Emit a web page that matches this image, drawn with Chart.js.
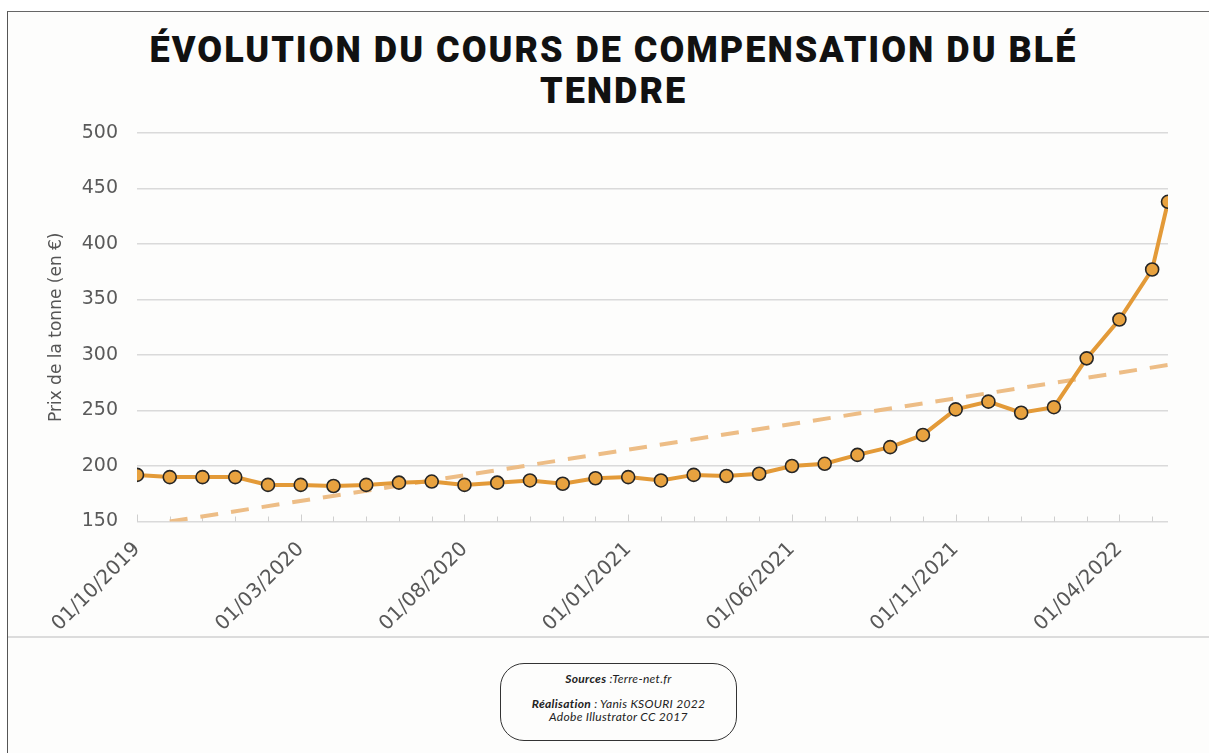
<!DOCTYPE html>
<html lang="fr">
<head>
<meta charset="utf-8">
<title>Évolution du cours de compensation du blé tendre</title>
<script src="https://cdn.jsdelivr.net/npm/chart.js@4.4.1/dist/chart.umd.min.js"></script>
<style>
  html, body { margin: 0; padding: 0; background: #fff; }
  body { width: 1209px; height: 753px; position: relative; overflow: hidden; }
  .frame {
    position: absolute; left: 7px; top: 11px; right: 0; bottom: 0;
    background: #fdfdfc;
    border-left: 1.5px solid #555;
    border-top: 1.5px solid #666;
  }
  .title {
    position: absolute; left: 0; top: 30px; width: 1227px; text-align: center;
    font-family: Roboto, "DejaVu Sans", sans-serif; font-weight: 900; font-size: 36px;
    letter-spacing: 2px; line-height: 41px; color: #111;
  }
  .chart-wrap { position: absolute; left: 8px; top: 12px; width: 1201px; height: 646px; }
  .sep { position: absolute; left: 8px; right: 0; top: 636px; border-top: 2px solid #dcdcdc; }
  .below { position: absolute; left: 8px; right: 0; top: 638px; bottom: 0; background: #fdfdfc; }
  .credits {
    position: absolute; left: 500px; top: 663px; width: 237px; height: 78px;
    box-sizing: border-box; border: 1.3px solid #333; border-radius: 24px;
    font-family: Lato, "DejaVu Sans", sans-serif; font-size: 12px; font-style: italic;
    letter-spacing: 0.3px; color: #222; text-align: center; line-height: 13px; padding-top: 8px;
  }
  .credits b { font-weight: 700; }
  .credits p { margin: 0; }
  .credits .gap { height: 12px; }
</style>
</head>
<body>
<div class="frame"></div>
<div class="title">ÉVOLUTION DU COURS DE COMPENSATION DU BLÉ<br>TENDRE</div>
<div class="chart-wrap"><canvas id="wheatChart"></canvas></div>
<div class="below"></div>
<div class="sep"></div>
<div class="credits">
  <p><b>Sources</b> :Terre-net.fr</p>
  <div class="gap"></div>
  <p><b>Réalisation</b> : Yanis KSOURI 2022</p>
  <p>Adobe Illustrator CC 2017</p>
</div>

<script>
// Monthly compensation price (€/t)
const dates = [
  '01/10/2019', '01/11/2019', '01/12/2019', '01/01/2020', '01/02/2020', '01/03/2020',
  '01/04/2020', '01/05/2020', '01/06/2020', '01/07/2020', '01/08/2020', '01/09/2020',
  '01/10/2020', '01/11/2020', '01/12/2020', '01/01/2021', '01/02/2021', '01/03/2021',
  '01/04/2021', '01/05/2021', '01/06/2021', '01/07/2021', '01/08/2021', '01/09/2021',
  '01/10/2021', '01/11/2021', '01/12/2021', '01/01/2022', '01/02/2022', '01/03/2022',
  '01/04/2022', '01/05/2022', '16/05/2022'
];
const prices = [
  192, 190, 190, 190, 183, 183,
  182, 183, 185, 186, 183, 185,
  187, 184, 189, 190, 187, 192,
  191, 193, 200, 202, 210, 217,
  228, 251, 258, 248, 253, 297,
  332, 377, 438
];

// dashed linear trend, ends
const trendDates = ['01/11/2019', '16/05/2022'];
const trendPrices = [150, 291];

const tickDates = ['01/10/2019', '01/03/2020', '01/08/2020', '01/01/2021', '01/06/2021', '01/11/2021', '01/04/2022'];
const yMin = 150;
const yMax = 500;
const yStep = 50;

// months elapsed since the first date (fraction for mid-month)
function monthIndex(str) {
  const [d, m, y] = str.split('/').map(Number);
  const days = new Date(y, m, 0).getDate();
  return (y - 2019) * 12 + (m - 10) + (d - 1) / days;
}

const tickLabelByValue = {};
tickDates.forEach(t => { tickLabelByValue[monthIndex(t).toFixed(3)] = t; });

// small inward tick marks every month on the bottom axis
const monthTicks = {
  id: 'monthTicks',
  beforeDatasetsDraw(chart) {
    const x = chart.scales.x;
    const y = chart.scales.y;
    const ctx = chart.ctx;
    const last = Math.floor(monthIndex(dates[dates.length - 1]));
    ctx.save();
    ctx.strokeStyle = '#cfcfcf';
    ctx.lineWidth = 1;
    for (let i = 0; i <= last; i++) {
      const px = Math.round(x.getPixelForValue(i)) + 0.5;
      const h = i % 5 === 0 ? 7 : 5;
      ctx.beginPath();
      ctx.moveTo(px, y.bottom);
      ctx.lineTo(px, y.bottom - h);
      ctx.stroke();
    }
    ctx.restore();
  }
};

const ctx = document.getElementById('wheatChart').getContext('2d');

new Chart(ctx, {
  type: 'line',
  data: {
    datasets: [
      {
        label: 'Cours',
        data: dates.map((d, i) => ({ x: monthIndex(d), y: prices[i] })),
        borderColor: '#e39a38',
        borderWidth: 4,
        backgroundColor: '#e8a23f',
        pointBackgroundColor: '#e8a23f',
        pointBorderColor: '#262626',
        pointBorderWidth: 1.6,
        pointRadius: 6.5,
        tension: 0
      },
      {
        label: 'Tendance',
        data: trendDates.map((d, i) => ({ x: monthIndex(d), y: trendPrices[i] })),
        borderColor: '#edbd86',
        borderWidth: 4,
        borderDash: [18, 13],
        pointRadius: 0,
        tension: 0
      }
    ]
  },
  options: {
    responsive: true,
    maintainAspectRatio: false,
    animation: false,
    layout: { padding: { top: 121, right: 41, bottom: 14 } },
    plugins: {
      legend: { display: false },
      tooltip: { enabled: false },
      title: { display: false }
    },
    scales: {
      x: {
        type: 'linear',
        min: 0,
        max: monthIndex(dates[dates.length - 1]),
        afterBuildTicks(scale) {
          scale.ticks = tickDates.map(t => ({ value: monthIndex(t) }));
        },
        grid: { display: false },
        border: { display: false },
        ticks: {
          autoSkip: false,
          minRotation: 45,
          maxRotation: 45,
          padding: 8,
          color: '#585858',
          font: { family: 'DejaVu Sans', size: 20 },
          callback: (v) => tickLabelByValue[Number(v).toFixed(3)] || ''
        }
      },
      y: {
        min: yMin,
        max: yMax,
        afterFit(scale) { scale.width = 129; },
        grid: { color: '#dadada', lineWidth: 1.5, drawTicks: false },
        border: { display: false },
        ticks: {
          stepSize: yStep,
          padding: 19,
          color: '#5a5a5a',
          font: { family: 'DejaVu Sans', size: 19 }
        },
        title: {
          display: true,
          text: 'Prix de la tonne (en €)',
          color: '#555',
          font: { family: 'DejaVu Sans', size: 17 },
          padding: { top: 38, bottom: 0 }
        }
      }
    }
  },
  plugins: [monthTicks]
});
</script>
</body>
</html>
